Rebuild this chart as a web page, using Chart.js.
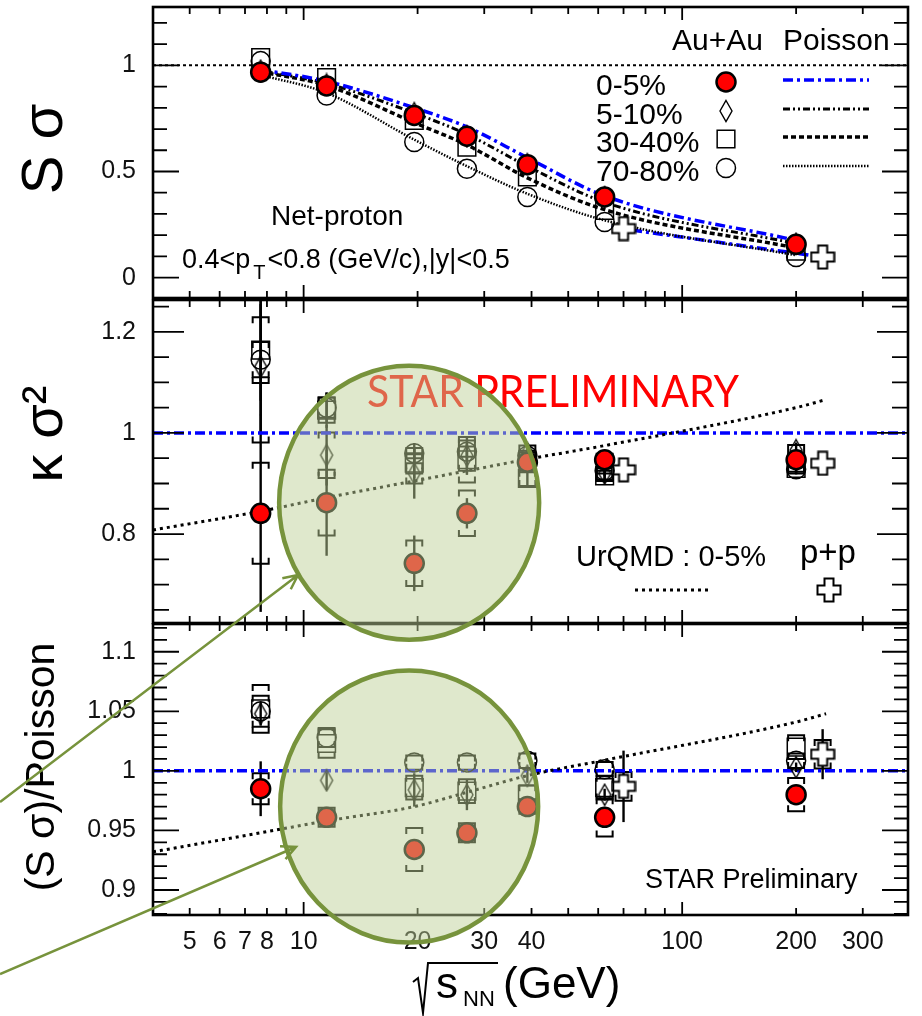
<!DOCTYPE html>
<html lang="en">
  <head>
    <meta charset="UTF-8" />
    <title>Net-proton S sigma and kappa sigma^2 vs beam energy</title>
    <style>
      body {
        margin: 0;
        background: #fff;
      }

      #wrap {
        position: relative;
        width: 922px;
        height: 1016px;
      }

      #wrap canvas {
        position: absolute;
        left: 0;
      }

      #c1 { top: 0; }
      #c2 { top: 299px; }
      #c3 { top: 623px; }
      #overlay { top: 0; pointer-events: none; }
    </style>
    <script src="https://cdn.jsdelivr.net/npm/chart.js"></script>
  </head>
  <body>
    <div id="wrap">
      <canvas id="c1" width="922" height="300"></canvas>
      <canvas id="c2" width="922" height="326"></canvas>
      <canvas id="c3" width="922" height="393"></canvas>
      <canvas id="overlay" width="922" height="1016"></canvas>
    </div>

    <script>
      const FONT = '"Liberation Sans", Arial, Helvetica, sans-serif';

      // x axis (sqrt(s_NN) in GeV, log scale)
      const xRange = [4, 395];
      const xTickLabels = [5, 6, 7, 8, 10, 20, 30, 40, 100, 200, 300];
      const xMajorTicks = [10, 100];
      const xMinorTicks = [5, 6, 7, 8, 9, 20, 30, 40, 50, 60, 70, 80, 90, 200, 300];

      const energies = [7.7, 11.5, 19.6, 27, 39, 62.4, 200];
      const ppEnergies = [70, 235]; // p+p drawn beside 62.4 and 200 GeV
      const ppPoissonEnergies = [65, 235];
      const urqmdEnergies = [4, 7.7, 11.5, 19.6, 27, 39, 62.4, 200, 240];
      const unity = [1, 1];

      const centralities = ["0-5%", "5-10%", "30-40%", "70-80%"];

      // S sigma
      const ss_0_5 = [0.968, 0.903, 0.764, 0.666, 0.532, 0.38, 0.157];
      const ss_5_10 = [0.975, 0.91, 0.775, 0.665, 0.535, 0.38, 0.16];
      const ss_30_40 = [1.037, 0.943, 0.741, 0.615, 0.474, 0.317, 0.125];
      const ss_70_80 = [1.02, 0.858, 0.639, 0.513, 0.38, 0.262, 0.097];
      const ss_pp = [0.231, 0.097];
      const poisson_0_5 = [0.98, 0.925, 0.8, 0.71, 0.565, 0.385, 0.175];
      const poisson_5_10 = [0.975, 0.915, 0.775, 0.675, 0.525, 0.355, 0.16];
      const poisson_30_40 = [0.97, 0.905, 0.73, 0.625, 0.47, 0.32, 0.14];
      const poisson_70_80 = [0.955, 0.87, 0.65, 0.525, 0.395, 0.27, 0.105];
      const poisson_pp = [0.238, 0.097];

      // kappa sigma^2
      const k2_0_5 = [0.841, 0.862, 0.742, 0.841, 0.942, 0.947, 0.947];
      const k2_0_5_stat = [0.195, 0.105, 0.055, 0.03, 0.015, 0.015, 0.012];
      const k2_0_5_sys = [0.1, 0.065, 0.045, 0.045, 0.02, 0.012, 0.01];
      const k2_5_10 = [1.131, 0.956, 0.92, 0.955, 0.96, 0.92, 0.966];
      const k2_5_10_stat = [0.13, 0.06, 0.05, 0.035, 0.02, 0.02, 0.015];
      const k2_5_10_sys = [0.15, 0.045, 0.02, 0.03, 0.015, 0.012, 0.01];
      const k2_30_40 = [1.164, 1.045, 0.94, 0.947, 0.91, 0.915, 0.93];
      const k2_30_40_stat = [0.1, 0.035, 0.03, 0.03, 0.015, 0.012, 0.01];
      const k2_30_40_sys = [0.065, 0.025, 0.02, 0.045, 0.015, 0.01, 0.01];
      const k2_70_80 = [1.145, 1.05, 0.96, 0.963, 0.955, 0.925, 0.928];
      const k2_70_80_stat = [0.11, 0.03, 0.02, 0.02, 0.01, 0.01, 0.01];
      const k2_70_80_sys = [0.035, 0.02, 0.01, 0.01, 0.01, 0.005, 0.005];
      const k2_pp = [0.927, 0.94];
      const k2_urqmd = [0.808, 0.845, 0.872, 0.905, 0.925, 0.948, 0.975, 1.05, 1.066];

      // (S sigma)/Poisson
      const r_0_5 = [0.985, 0.961, 0.934, 0.948, 0.97, 0.961, 0.98];
      const r_0_5_stat = [0.023, 0.008, 0.008, 0.006, 0.005, 0.006, 0.004];
      const r_0_5_sys = [0.013, 0.008, 0.018, 0.008, 0.006, 0.016, 0.014];
      const r_5_10 = [1.048, 0.992, 0.984, 0.98, 0.996, 0.98, 1.003];
      const r_5_10_stat = [0.01, 0.008, 0.014, 0.013, 0.006, 0.005, 0.004];
      const r_30_40 = [1.052, 1.023, 0.986, 0.983, 0.98, 0.986, 1.02];
      const r_30_40_sys = [0.02, 0.012, 0.01, 0.01, 0.008, 0.01, 0.01];
      const r_70_80 = [1.05, 1.028, 1.007, 1.007, 1.0085, 1.0014, 1.0085];
      const r_70_80_sys = [0.013, 0.008, 0.006, 0.006, 0.006, 0.006, 0.006];
      const r_pp = [0.987, 1.014];
      const r_pp_stat = [0.03, 0.021];
      const r_pp_sys = [0.012, 0.012];
      const r_urqmd = [0.932, 0.948, 0.958, 0.97, 0.982, 0.996, 1.009, 1.041, 1.048];

      // y axes
      const y1Range = [-0.096, 1.275];
      const y1Ticks = [0, 0.5, 1];
      const y1Minor = [0.1, 0.2, 0.3, 0.4, 0.6, 0.7, 0.8, 0.9, 1.1, 1.2];
      const y2Range = [0.624, 1.263];
      const y2Ticks = [0.8, 1, 1.2];
      const y2Minor = [0.65, 0.7, 0.75, 0.85, 0.9, 0.95, 1.05, 1.1, 1.15, 1.25];
      const y3Range = [0.879, 1.1233];
      const y3Ticks = [0.9, 0.95, 1, 1.05, 1.1];

      // highlighted region (green callouts)
      const calloutEnergy = 19;
      const calloutKappa = 0.862;
      const calloutRatio = 0.97;

      function steps(from, to, step, skip) {
        const out = [];
        for (let v = from; v <= to + 1e-9; v += step) {
          const r = Math.round(v * 1000) / 1000;
          if (!skip.some((s) => Math.abs(s - r) < 1e-6)) out.push(r);
        }
        return out;
      }
      const y3Minor = steps(0.88, 1.12, 0.01, y3Ticks);

      function pts(xs, ys) {
        return xs.map((x, i) => ({ x: x, y: ys[i] }));
      }

      function markerCanvas(w, h, draw) {
        const c = document.createElement("canvas");
        c.width = w;
        c.height = h;
        draw(c.getContext("2d"), w, h);
        return c;
      }

      const diamondMark = markerCanvas(16, 24, (g, w, h) => {
        g.beginPath();
        g.moveTo(w / 2, 1.5);
        g.lineTo(w - 2, h / 2);
        g.lineTo(w / 2, h - 1.5);
        g.lineTo(2, h / 2);
        g.closePath();
        g.lineWidth = 1.4;
        g.strokeStyle = "#000";
        g.stroke();
      });

      const crossMark = markerCanvas(26, 26, (g) => {
        const c = 13, a = 4.5, r = 11.5;
        g.beginPath();
        g.moveTo(c - a, c - r);
        g.lineTo(c + a, c - r);
        g.lineTo(c + a, c - a);
        g.lineTo(c + r, c - a);
        g.lineTo(c + r, c + a);
        g.lineTo(c + a, c + a);
        g.lineTo(c + a, c + r);
        g.lineTo(c - a, c + r);
        g.lineTo(c - a, c + a);
        g.lineTo(c - r, c + a);
        g.lineTo(c - r, c - a);
        g.lineTo(c - a, c - a);
        g.closePath();
        g.fillStyle = "#fff";
        g.fill();
        g.lineWidth = 2;
        g.strokeStyle = "#000";
        g.stroke();
      });

      const styleRed = { pointStyle: "circle", pointRadius: 9.5, pointBackgroundColor: "#ff0000", pointBorderColor: "#000", pointBorderWidth: 2.5 };
      const styleDiamond = { pointStyle: diamondMark, pointRadius: 10 };
      const styleSquare = { pointStyle: "rect", pointRadius: 12.5, pointBackgroundColor: "rgba(0,0,0,0)", pointBorderColor: "#000", pointBorderWidth: 1.5 };
      const styleCircle = { pointStyle: "circle", pointRadius: 9.5, pointBackgroundColor: "rgba(0,0,0,0)", pointBorderColor: "#000", pointBorderWidth: 1.5 };
      const styleCross = { pointStyle: crossMark, pointRadius: 12 };
      const markerStyles = [styleRed, styleDiamond, styleSquare, styleCircle];

      const lineBlue = { borderColor: "#0000ff", borderWidth: 3.5, borderDash: [10, 4, 3, 4] };
      const lineDashDotDot = { borderColor: "#000", borderWidth: 3, borderDash: [7, 3, 2, 3, 2, 3] };
      const lineDashed = { borderColor: "#000", borderWidth: 3.5, borderDash: [5, 3] };
      const lineDotted = { borderColor: "#000", borderWidth: 2.5, borderDash: [1.5, 1.5] };
      const lineUnity = { borderColor: "#000", borderWidth: 2, borderDash: [3, 3] };
      const lineUrqmd = { borderColor: "#000", borderWidth: 3, borderDash: [3, 4] };
      const poissonStyles = [lineBlue, lineDashDotDot, lineDashed, lineDotted];

      function marker(data, style, stat, sys) {
        return Object.assign({ data: data, showLine: false, stat: stat, sys: sys }, style);
      }

      function curve(data, style) {
        return Object.assign({ data: data, pointRadius: 0, fill: false, cubicInterpolationMode: "monotone" }, style);
      }

      function drawMarker(ctx, st, x, y) {
        if (typeof st.pointStyle !== "string") {
          ctx.drawImage(st.pointStyle, x - st.pointStyle.width / 2, y - st.pointStyle.height / 2);
          return;
        }
        ctx.save();
        ctx.setLineDash([]);
        ctx.beginPath();
        const r = st.pointRadius;
        if (st.pointStyle === "rect") {
          const h = r * Math.SQRT1_2;
          ctx.rect(x - h, y - h, 2 * h, 2 * h);
        } else {
          ctx.arc(x, y, r, 0, Math.PI * 2);
        }
        ctx.fillStyle = st.pointBackgroundColor;
        ctx.fill();
        ctx.lineWidth = st.pointBorderWidth;
        ctx.strokeStyle = st.pointBorderColor;
        ctx.stroke();
        ctx.restore();
      }

      function drawSample(ctx, st, x0, x1, y) {
        ctx.save();
        ctx.beginPath();
        ctx.setLineDash(st.borderDash);
        ctx.lineWidth = st.borderWidth;
        ctx.strokeStyle = st.borderColor;
        ctx.moveTo(x0, y);
        ctx.lineTo(x1, y);
        ctx.stroke();
        ctx.restore();
      }

      function yTitle(ctx, text, x, y, size) {
        ctx.save();
        ctx.translate(x, y);
        ctx.rotate(-Math.PI / 2);
        ctx.font = size + "px " + FONT;
        ctx.textAlign = "center";
        ctx.fillStyle = "#000";
        ctx.fillText(text, 0, 0);
        ctx.restore();
      }

      // frame with inward ticks on all four sides
      const rootFrame = {
        id: "rootFrame",
        afterDraw(chart, args, opts) {
          const { ctx, chartArea: a, scales } = chart;
          const x = scales.x, y = scales.y;
          ctx.save();
          ctx.strokeStyle = "#000";
          ctx.lineWidth = 1.8;
          ctx.beginPath();
          const yTick = (v, len) => {
            const py = y.getPixelForValue(v);
            ctx.moveTo(a.left, py);
            ctx.lineTo(a.left + len, py);
            ctx.moveTo(a.right, py);
            ctx.lineTo(a.right - len, py);
          };
          const xTick = (v, len) => {
            const px = x.getPixelForValue(v);
            ctx.moveTo(px, a.bottom);
            ctx.lineTo(px, a.bottom - len);
            ctx.moveTo(px, a.top);
            ctx.lineTo(px, a.top + len);
          };
          opts.yMajor.forEach((v) => yTick(v, opts.majorLen));
          opts.yMinor.forEach((v) => yTick(v, opts.minorLen));
          xMajorTicks.forEach((v) => xTick(v, 13));
          xMinorTicks.forEach((v) => xTick(v, 7));
          ctx.stroke();
          ctx.lineWidth = 2.6;
          ctx.strokeRect(a.left, a.top, a.right - a.left, a.bottom - a.top);
          ctx.restore();
        },
      };

      // statistical bars and systematic brackets, under the markers
      const errorBars = {
        id: "errorBars",
        beforeDatasetsDraw(chart) {
          const { ctx, chartArea: a, scales } = chart;
          const x = scales.x, y = scales.y;
          ctx.save();
          ctx.beginPath();
          ctx.rect(a.left, a.top, a.right - a.left, a.bottom - a.top);
          ctx.clip();
          ctx.strokeStyle = "#000";
          chart.data.datasets.forEach((ds) => {
            ds.data.forEach((p, i) => {
              const px = x.getPixelForValue(p.x);
              if (ds.stat) {
                ctx.lineWidth = 2.4;
                ctx.beginPath();
                ctx.moveTo(px, y.getPixelForValue(p.y - ds.stat[i]));
                ctx.lineTo(px, y.getPixelForValue(p.y + ds.stat[i]));
                ctx.stroke();
              }
              if (ds.sys) {
                const hi = y.getPixelForValue(p.y + ds.sys[i]);
                const lo = y.getPixelForValue(p.y - ds.sys[i]);
                ctx.lineWidth = 2;
                ctx.beginPath();
                ctx.moveTo(px - 8, hi + 6);
                ctx.lineTo(px - 8, hi);
                ctx.lineTo(px + 8, hi);
                ctx.lineTo(px + 8, hi + 6);
                ctx.moveTo(px - 8, lo - 6);
                ctx.lineTo(px - 8, lo);
                ctx.lineTo(px + 8, lo);
                ctx.lineTo(px + 8, lo - 6);
                ctx.stroke();
              }
            });
          });
          ctx.restore();
        },
      };

      function baseOptions(yRange, yTicks, yMinor, majorLen, minorLen, padding, showX) {
        return {
          responsive: false,
          animation: false,
          events: [],
          layout: { padding: padding, autoPadding: false },
          plugins: {
            legend: { display: false },
            tooltip: { enabled: false },
            rootFrame: { yMajor: yTicks, yMinor: yMinor, majorLen: majorLen, minorLen: minorLen },
          },
          scales: {
            x: {
              type: "logarithmic",
              min: xRange[0],
              max: xRange[1],
              display: showX,
              afterBuildTicks: (s) => {
                s.ticks = xTickLabels.map((v) => ({ value: v }));
              },
              afterFit: showX
                ? (s) => {
                    s.height = 100;
                    s.paddingLeft = 0;
                    s.paddingRight = 0;
                  }
                : undefined,
              grid: { display: false, drawTicks: false },
              border: { display: false },
              ticks: {
                autoSkip: false,
                maxRotation: 0,
                padding: 12,
                color: "#111",
                font: { family: FONT, size: 25 },
                callback: (v) => String(v),
              },
            },
            y: {
              type: "linear",
              min: yRange[0],
              max: yRange[1],
              afterBuildTicks: (s) => {
                s.ticks = yTicks.map((v) => ({ value: v }));
              },
              afterFit: (s) => {
                s.width = 153;
                s.paddingTop = 0;
                s.paddingBottom = 0;
              },
              grid: { display: false, drawTicks: false },
              border: { display: false },
              ticks: {
                padding: 17,
                color: "#111",
                font: { family: FONT, size: 25 },
                callback: (v) => String(+v.toFixed(3)),
              },
            },
          },
        };
      }

      // ---------- top panel: S sigma ----------
      const panel1Text = {
        id: "panel1Text",
        afterDraw(chart) {
          const ctx = chart.ctx;
          ctx.save();
          ctx.fillStyle = "#000";
          ctx.font = "30px " + FONT;
          ctx.fillText("Au+Au", 672, 50);
          ctx.fillText("Poisson", 783, 50);
          const rows = [82, 111, 139, 168];
          centralities.forEach((label, i) => {
            ctx.fillStyle = "#000";
            ctx.font = "30px " + FONT;
            ctx.fillText(label, 596, rows[i] + 13);
            drawMarker(ctx, markerStyles[i], 726, rows[i]);
            drawSample(ctx, poissonStyles[i], 783, 869, rows[i] - 2);
          });
          ctx.font = "28px " + FONT;
          ctx.fillText("Net-proton", 271, 225);
          ctx.font = "27px " + FONT;
          ctx.fillText("0.4<p", 182, 268);
          let w = ctx.measureText("0.4<p").width;
          ctx.font = "20px " + FONT;
          ctx.fillText("T", 182 + w + 3, 279);
          const wt = ctx.measureText("T").width;
          ctx.font = "27px " + FONT;
          ctx.fillText("<0.8 (GeV/c),|y|<0.5", 182 + w + wt + 5, 268);
          ctx.restore();
          yTitle(ctx, "S σ", 62, 149, 58);
        },
      };

      const chart1 = new Chart(document.getElementById("c1"), {
        type: "line",
        data: {
          datasets: [
            marker(pts(energies, ss_0_5), styleRed),
            marker(pts(energies, ss_5_10), styleDiamond),
            marker(pts(energies, ss_30_40), styleSquare),
            marker(pts(energies, ss_70_80), styleCircle),
            marker(pts(ppEnergies, ss_pp), styleCross),
            curve(pts(energies, poisson_0_5), lineBlue),
            curve(pts(energies, poisson_5_10), lineDashDotDot),
            curve(pts(energies, poisson_30_40), lineDashed),
            curve(pts(energies, poisson_70_80), lineDotted),
            curve(pts(ppPoissonEnergies, poisson_pp), lineBlue),
            curve(pts(xRange, unity), lineUnity),
          ],
        },
        options: baseOptions(y1Range, y1Ticks, y1Minor, 26, 14, { top: 7, bottom: 2, left: 0, right: 14 }, false),
        plugins: [errorBars, rootFrame, panel1Text],
      });

      // ---------- middle panel: kappa sigma^2 ----------
      const panel2Text = {
        id: "panel2Text",
        afterDraw(chart) {
          const ctx = chart.ctx;
          ctx.save();
          ctx.fillStyle = "#ff0000";
          ctx.font = '44px Lato, "Open Sans", sans-serif';
          const label = "STAR PRELIMINARY";
          const w = ctx.measureText(label).width;
          ctx.translate(367, 407 - 299);
          ctx.scale(372 / w, 1);
          ctx.fillText(label, 0, 0);
          ctx.restore();

          ctx.save();
          ctx.fillStyle = "#000";
          ctx.font = "29px " + FONT;
          ctx.fillText("UrQMD : 0-5%", 576, 566 - 299);
          ctx.font = "33px " + FONT;
          ctx.fillText("p+p", 800, 563 - 299);
          drawSample(ctx, lineUrqmd, 635, 711, 590 - 299);
          drawMarker(ctx, styleCross, 829, 590 - 299);
          ctx.restore();
          yTitle(ctx, "κ σ²", 62, 434 - 299, 56);
        },
      };

      const chart2 = new Chart(document.getElementById("c2"), {
        type: "line",
        data: {
          datasets: [
            marker(pts(energies, k2_0_5), styleRed, k2_0_5_stat, k2_0_5_sys),
            marker(pts(energies, k2_5_10), styleDiamond, k2_5_10_stat, k2_5_10_sys),
            marker(pts(energies, k2_30_40), styleSquare, k2_30_40_stat, k2_30_40_sys),
            marker(pts(energies, k2_70_80), styleCircle, k2_70_80_stat, k2_70_80_sys),
            marker(pts(ppEnergies, k2_pp), styleCross),
            curve(pts(urqmdEnergies, k2_urqmd), lineUrqmd),
            curve(pts(xRange, unity), lineBlue),
          ],
        },
        options: baseOptions(y2Range, y2Ticks, y2Minor, 31, 16, { top: 1, bottom: 2, left: 0, right: 14 }, false),
        plugins: [errorBars, rootFrame, panel2Text],
      });

      // ---------- bottom panel: (S sigma)/Poisson ----------
      const panel3Text = {
        id: "panel3Text",
        afterDraw(chart) {
          const ctx = chart.ctx;
          ctx.save();
          ctx.fillStyle = "#000";
          ctx.font = "27px " + FONT;
          ctx.fillText("STAR Preliminary", 645, 888 - 623);

          // sqrt(s_NN) (GeV)
          const base = 998 - 623;
          ctx.strokeStyle = "#000";
          ctx.lineWidth = 2;
          ctx.beginPath();
          ctx.moveTo(413, 982 - 623);
          ctx.lineTo(418, 978 - 623);
          ctx.lineTo(423, 1013 - 623);
          ctx.lineTo(428, 963 - 623);
          ctx.lineTo(498, 963 - 623);
          ctx.stroke();
          ctx.font = "44px " + FONT;
          ctx.fillText("s", 436, base);
          ctx.font = "22px " + FONT;
          ctx.fillText("NN", 463, base + 8);
          ctx.font = "44px " + FONT;
          ctx.fillText("(GeV)", 503, base);
          ctx.restore();
          yTitle(ctx, "(S σ)/Poisson", 54, 767 - 623, 41);
        },
      };

      const chart3 = new Chart(document.getElementById("c3"), {
        type: "line",
        data: {
          datasets: [
            marker(pts(energies, r_0_5), styleRed, r_0_5_stat, r_0_5_sys),
            marker(pts(energies, r_5_10), styleDiamond, r_5_10_stat),
            marker(pts(energies, r_30_40), styleSquare, null, r_30_40_sys),
            marker(pts(energies, r_70_80), styleCircle, null, r_70_80_sys),
            marker(pts(ppEnergies, r_pp), styleCross, r_pp_stat, r_pp_sys),
            curve(pts(urqmdEnergies, r_urqmd), lineUrqmd),
            curve(pts(xRange, unity), lineBlue),
          ],
        },
        options: baseOptions(y3Range, y3Ticks, y3Minor, 26, 14, { top: 1, bottom: 1, left: 0, right: 14 }, true),
        plugins: [errorBars, rootFrame, panel3Text],
      });

      // green callouts around the 11.5 - 39 GeV points
      function drawCallouts() {
        const g = document.getElementById("overlay").getContext("2d");
        const top2 = 299, top3 = 623;
        const cx = chart2.scales.x.getPixelForValue(calloutEnergy);
        const ellipses = [
          [cx, top2 + chart2.scales.y.getPixelForValue(calloutKappa), 130, 137],
          [cx, top3 + chart3.scales.y.getPixelForValue(calloutRatio), 129, 136],
        ];
        ellipses.forEach(([x, y, rx, ry]) => {
          g.beginPath();
          g.ellipse(x, y, rx, ry, 0, 0, Math.PI * 2);
          g.fillStyle = "rgba(190, 208, 151, 0.49)";
          g.fill();
          g.lineWidth = 4.5;
          g.strokeStyle = "#77933c";
          g.stroke();
        });

        const arrows = [
          [0, 802, 298, 575],
          [0, 974, 296, 847],
        ];
        g.strokeStyle = "#77933c";
        g.lineWidth = 2.5;
        arrows.forEach(([x0, y0, x1, y1]) => {
          const ang = Math.atan2(y1 - y0, x1 - x0);
          g.beginPath();
          g.moveTo(x0, y0);
          g.lineTo(x1, y1);
          g.moveTo(x1 - 16 * Math.cos(ang - 0.45), y1 - 16 * Math.sin(ang - 0.45));
          g.lineTo(x1, y1);
          g.lineTo(x1 - 16 * Math.cos(ang + 0.45), y1 - 16 * Math.sin(ang + 0.45));
          g.stroke();
        });
      }

      drawCallouts();
    </script>
  </body>
</html>
